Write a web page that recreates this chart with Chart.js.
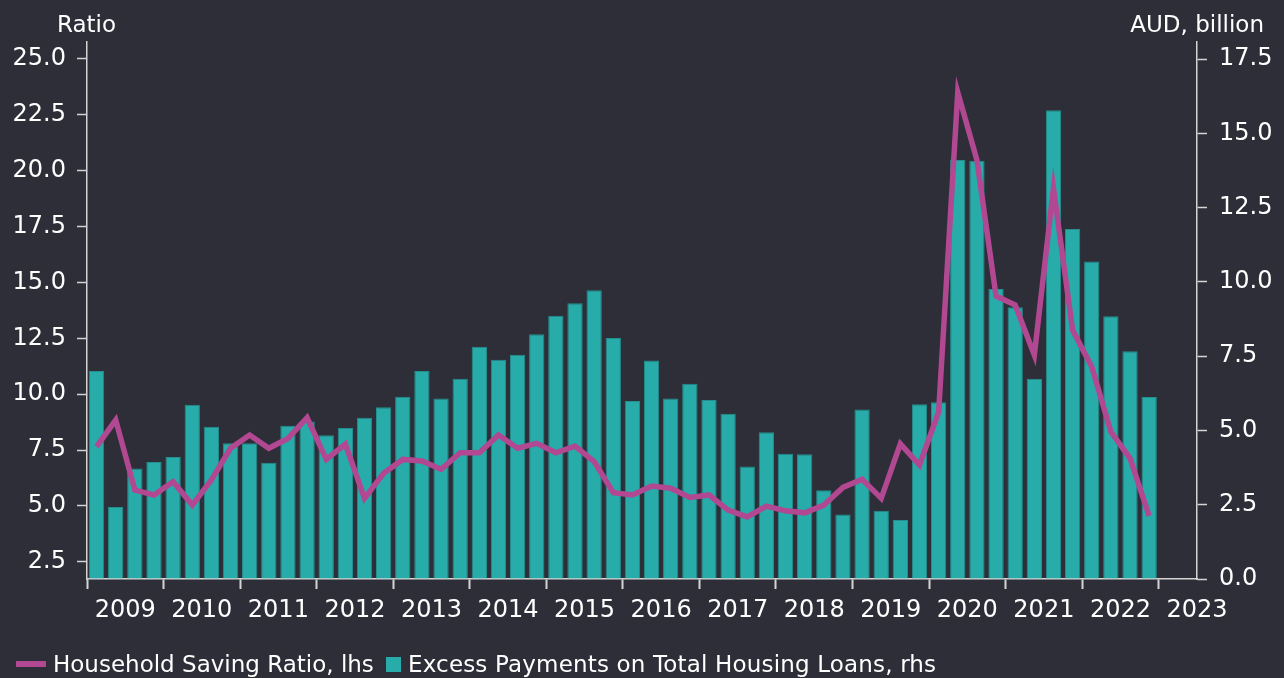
<!DOCTYPE html>
<html>
<head>
<meta charset="utf-8">
<script src="https://cdn.jsdelivr.net/npm/chart.js@4.4.1/dist/chart.umd.min.js"></script>
<style>
  html, body { margin: 0; padding: 0; background: #2e2e38; }
  #wrap { position: relative; width: 1284px; height: 678px; background: #2e2e38; overflow: hidden; }
  #wrap canvas { position: absolute; left: 0; top: 0; }
  .lg { position: absolute; font-family: "DejaVu Sans", sans-serif; font-size: 23px; line-height: 27px; color: #ffffff; white-space: nowrap; }
  .mk { position: absolute; }
</style>
</head>
<body>
<div id="wrap">
  <canvas id="c" width="1284" height="678"></canvas>
  <span class="mk" style="left:16px;top:661px;width:30px;height:6px;background:#b14891;"></span>
  <span class="lg" style="left:53px;top:651px;">Household Saving Ratio, lhs</span>
  <span class="mk" style="left:386px;top:657px;width:15px;height:15px;background:#27acaa;"></span>
  <span class="lg" style="left:408px;top:651px;letter-spacing:0.17px;">Excess Payments on Total Housing Loans, rhs</span>
</div>
<script>
// ---- data ----
const quarters = [
  "2009 Q1","2009 Q2","2009 Q3","2009 Q4",
  "2010 Q1","2010 Q2","2010 Q3","2010 Q4",
  "2011 Q1","2011 Q2","2011 Q3","2011 Q4",
  "2012 Q1","2012 Q2","2012 Q3","2012 Q4",
  "2013 Q1","2013 Q2","2013 Q3","2013 Q4",
  "2014 Q1","2014 Q2","2014 Q3","2014 Q4",
  "2015 Q1","2015 Q2","2015 Q3","2015 Q4",
  "2016 Q1","2016 Q2","2016 Q3","2016 Q4",
  "2017 Q1","2017 Q2","2017 Q3","2017 Q4",
  "2018 Q1","2018 Q2","2018 Q3","2018 Q4",
  "2019 Q1","2019 Q2","2019 Q3","2019 Q4",
  "2020 Q1","2020 Q2","2020 Q3","2020 Q4",
  "2021 Q1","2021 Q2","2021 Q3","2021 Q4",
  "2022 Q1","2022 Q2","2022 Q3","2022 Q4",
  "2023 Q1","2023 Q2"
];
const savingRatio = [
  7.65, 8.84, 5.71, 5.49, 6.08, 5.04, 6.16, 7.58,
  8.17, 7.58, 8.02, 8.95, 7.08, 7.77, 5.34, 6.46,
  7.08, 7.01, 6.64, 7.38, 7.38, 8.17, 7.58, 7.80,
  7.38, 7.68, 6.98, 5.59, 5.49, 5.89, 5.79, 5.38,
  5.49, 4.81, 4.51, 4.99, 4.78, 4.69, 5.04, 5.83,
  6.19, 5.34, 7.78, 6.83, 9.21, 23.51, 20.48, 14.39,
  13.99, 11.75, 19.21, 12.87, 11.23, 8.32, 7.13, 4.55
];
const excessPayments = [
  7.00, 2.42, 3.72, 3.94, 4.11, 5.87, 5.13, 4.57,
  4.57, 3.91, 5.16, 5.30, 4.84, 5.08, 5.43, 5.78,
  6.14, 7.00, 6.08, 6.74, 7.82, 7.38, 7.55, 8.24,
  8.86, 9.28, 9.72, 8.11, 5.99, 7.36, 6.08, 6.57,
  6.03, 5.56, 3.79, 4.94, 4.22, 4.20, 2.99, 2.17,
  5.71, 2.30, 1.99, 5.88, 5.95, 14.11, 14.08, 9.76,
  9.15, 6.74, 15.78, 11.78, 10.69, 8.85, 7.67, 6.13
];
const leftTicks = [2.5, 5.0, 7.5, 10.0, 12.5, 15.0, 17.5, 20.0, 22.5, 25.0];
const rightTicks = [0.0, 2.5, 5.0, 7.5, 10.0, 12.5, 15.0, 17.5];
const leftTitle = "Ratio";
const rightTitle = "AUD, billion";

// ---- style ----
const FONT = "DejaVu Sans";
const TXT = "#ffffff";
const AX = "#d4d4d4";
const MAGENTA = "#b14891";
const TEAL = "#27acaa";

const titlesPlugin = {
  id: "axisTitles",
  afterDraw(chart) {
    const ctx = chart.ctx;
    ctx.save();
    ctx.fillStyle = TXT;
    ctx.font = "23px '" + FONT + "'";
    ctx.textBaseline = "alphabetic";
    ctx.textAlign = "left";
    ctx.fillText(leftTitle, 57, 31.5);
    ctx.textAlign = "right";
    ctx.fillText(rightTitle, 1264, 31.5);
    ctx.restore();
  }
};

new Chart(document.getElementById("c"), {
  data: {
    labels: quarters,
    datasets: [
      {
        type: "line",
        label: "Household Saving Ratio, lhs",
        data: savingRatio,
        yAxisID: "yL",
        borderColor: MAGENTA,
        backgroundColor: MAGENTA,
        borderWidth: 5.5,
        pointRadius: 0,
        pointHoverRadius: 0,
        tension: 0,
        fill: false,
        order: 0
      },
      {
        type: "bar",
        label: "Excess Payments on Total Housing Loans, rhs",
        data: excessPayments,
        yAxisID: "yR",
        backgroundColor: TEAL,
        borderColor: "#238f8e",
        borderWidth: 1,
        barPercentage: 0.8,
        categoryPercentage: 1.0,
        order: 1
      }
    ]
  },
  options: {
    responsive: false,
    animation: false,
    devicePixelRatio: 1,
    layout: { padding: { top: 42, left: 0, right: 0, bottom: 0 } },
    plugins: {
      legend: { display: false },
      tooltip: { enabled: false },
      title: { display: false }
    },
    scales: {
      x: {
        type: "category",
        offset: true,
        grid: {
          display: true,
          offset: true,
          drawOnChartArea: false,
          drawTicks: true,
          tickLength: 10,
          tickColor: (c) => (c.index !== undefined && c.index % 4 === 0) ? AX : "rgba(0,0,0,0)",
          tickWidth: 2
        },
        border: { display: true, color: AX, width: 1.5 },
        ticks: {
          autoSkip: false,
          maxRotation: 0,
          minRotation: 0,
          padding: 7,
          labelOffset: 28.7,
          color: TXT,
          font: { family: FONT, size: 24 },
          callback: function (value, index) {
            return index % 4 === 0 ? quarters[index].slice(0, 4) : "";
          }
        },
        afterFit(scale) { scale.height = 99; }
      },
      yL: {
        type: "linear",
        position: "left",
        min: 1.73,
        max: 25.76,
        afterBuildTicks(scale) { scale.ticks = leftTicks.map(v => ({ value: v })); },
        grid: { drawOnChartArea: false, drawTicks: true, tickLength: 10, tickColor: AX, tickWidth: 1.5 },
        border: { display: true, color: AX, width: 1.5 },
        ticks: {
          padding: 11,
          color: TXT,
          font: { family: FONT, size: 24 },
          callback: (v) => Number(v).toFixed(1)
        },
        afterFit(scale) { scale.width = 87; }
      },
      yR: {
        type: "linear",
        position: "right",
        min: 0,
        max: 18.08,
        afterBuildTicks(scale) { scale.ticks = rightTicks.map(v => ({ value: v })); },
        grid: { drawOnChartArea: false, drawTicks: true, tickLength: 10, tickColor: AX, tickWidth: 1.5 },
        border: { display: true, color: AX, width: 1.5 },
        ticks: {
          padding: 12,
          color: TXT,
          font: { family: FONT, size: 24 },
          callback: (v) => Number(v).toFixed(1)
        },
        afterFit(scale) { scale.width = 87; }
      }
    }
  },
  plugins: [titlesPlugin]
});
</script>
</body>
</html>
